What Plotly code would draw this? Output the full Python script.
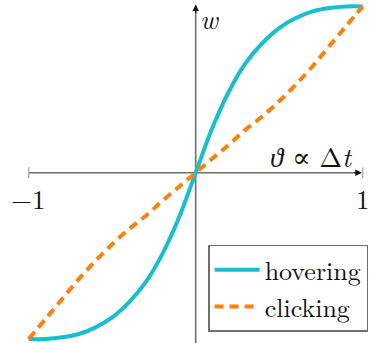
import plotly.graph_objects as go

theta = [-1.0, -0.9, -0.8, -0.7, -0.6, -0.5, -0.4, -0.3, -0.2, -0.1, 0.0,
         0.1, 0.2, 0.3, 0.4, 0.5, 0.6, 0.7, 0.8, 0.9, 1.0]
hovering = [-1.0, -1.0, -0.99, -0.97, -0.93, -0.87, -0.78, -0.66, -0.49, -0.27, 0.0,
            0.27, 0.49, 0.66, 0.78, 0.87, 0.93, 0.97, 0.99, 1.0, 1.0]
clicking = [-1.0, -0.88, -0.76, -0.64, -0.53, -0.43, -0.34, -0.26, -0.17, -0.085, 0.0,
            0.085, 0.17, 0.26, 0.34, 0.43, 0.53, 0.64, 0.76, 0.88, 1.0]

x_ticks = [-1, 1]
x_tick_labels = ["\u22121", "1"]

FONT = "Latin Modern Roman, Liberation Serif, DejaVu Serif, serif"
AXIS_GRAY = "#6e6e6e"

fig = go.Figure()
fig.add_trace(go.Scatter(x=theta, y=hovering, mode="lines", name="hovering",
                         line=dict(color="#17becf", width=4, shape="spline")))
fig.add_trace(go.Scatter(x=theta, y=clicking, mode="lines", name="clicking",
                         line=dict(color="#ff7f0e", width=4, dash="9px,6px", shape="spline")))

# axes drawn by hand (centered, with arrows)
fig.add_shape(type="line", x0=-1, x1=0.99, y0=0, y1=0, line=dict(color=AXIS_GRAY, width=1.6), layer="below")
fig.add_shape(type="line", x0=0, x1=0, y0=-1.03, y1=1.0, line=dict(color=AXIS_GRAY, width=1.6), layer="below")
for t in x_ticks:
    fig.add_shape(type="line", x0=t, x1=t, y0=-0.033, y1=0.033, line=dict(color="#b0b0b0", width=1.5))

fig.add_annotation(x=0.995, y=0, ax=0.94, ay=0, xref="x", yref="y", axref="x", ayref="y",
                   showarrow=True, arrowhead=2, arrowsize=1, arrowwidth=1.3, arrowcolor="#111111", text="")
fig.add_annotation(x=0, y=1.012, ax=0, ay=0.95, xref="x", yref="y", axref="x", ayref="y",
                   showarrow=True, arrowhead=2, arrowsize=1, arrowwidth=1.3, arrowcolor="#111111", text="")

for t, lab in zip(x_ticks, x_tick_labels):
    fig.add_annotation(x=t, y=-0.15, text=lab, showarrow=False,
                       font=dict(family=FONT, size=27, color="#111111"))

fig.add_annotation(x=0.085, y=0.93, text="<i>w</i>", showarrow=False,
                   font=dict(family=FONT, size=27, color="#111111"))
fig.add_annotation(x=0.695, y=0.1, text="<i>\u03d1</i> \u221d \u0394<i>t</i>", showarrow=False,
                   font=dict(family=FONT, size=27, color="#111111"))

fig.update_xaxes(range=[-1.172, 1.074], visible=False)
fig.update_yaxes(range=[-1.024, 1.0385], visible=False)

fig.update_layout(
    width=375, height=343, autosize=False,
    margin=dict(l=0, r=0, t=0, b=0),
    plot_bgcolor="white", paper_bgcolor="white",
    showlegend=True,
    legend=dict(x=0.555, y=0.286, xanchor="left", yanchor="top",
                bgcolor="white", bordercolor=AXIS_GRAY, borderwidth=1.5,
                font=dict(family=FONT, size=26, color="#111111"),
                tracegroupgap=0, itemwidth=45, entrywidth=170),
)

# page body has an 8px margin by default; drop it so the figure sits at the corner
fig.write_html("out.html", config={"displayModeBar": False},
               post_script="document.body.style.margin='0';")
